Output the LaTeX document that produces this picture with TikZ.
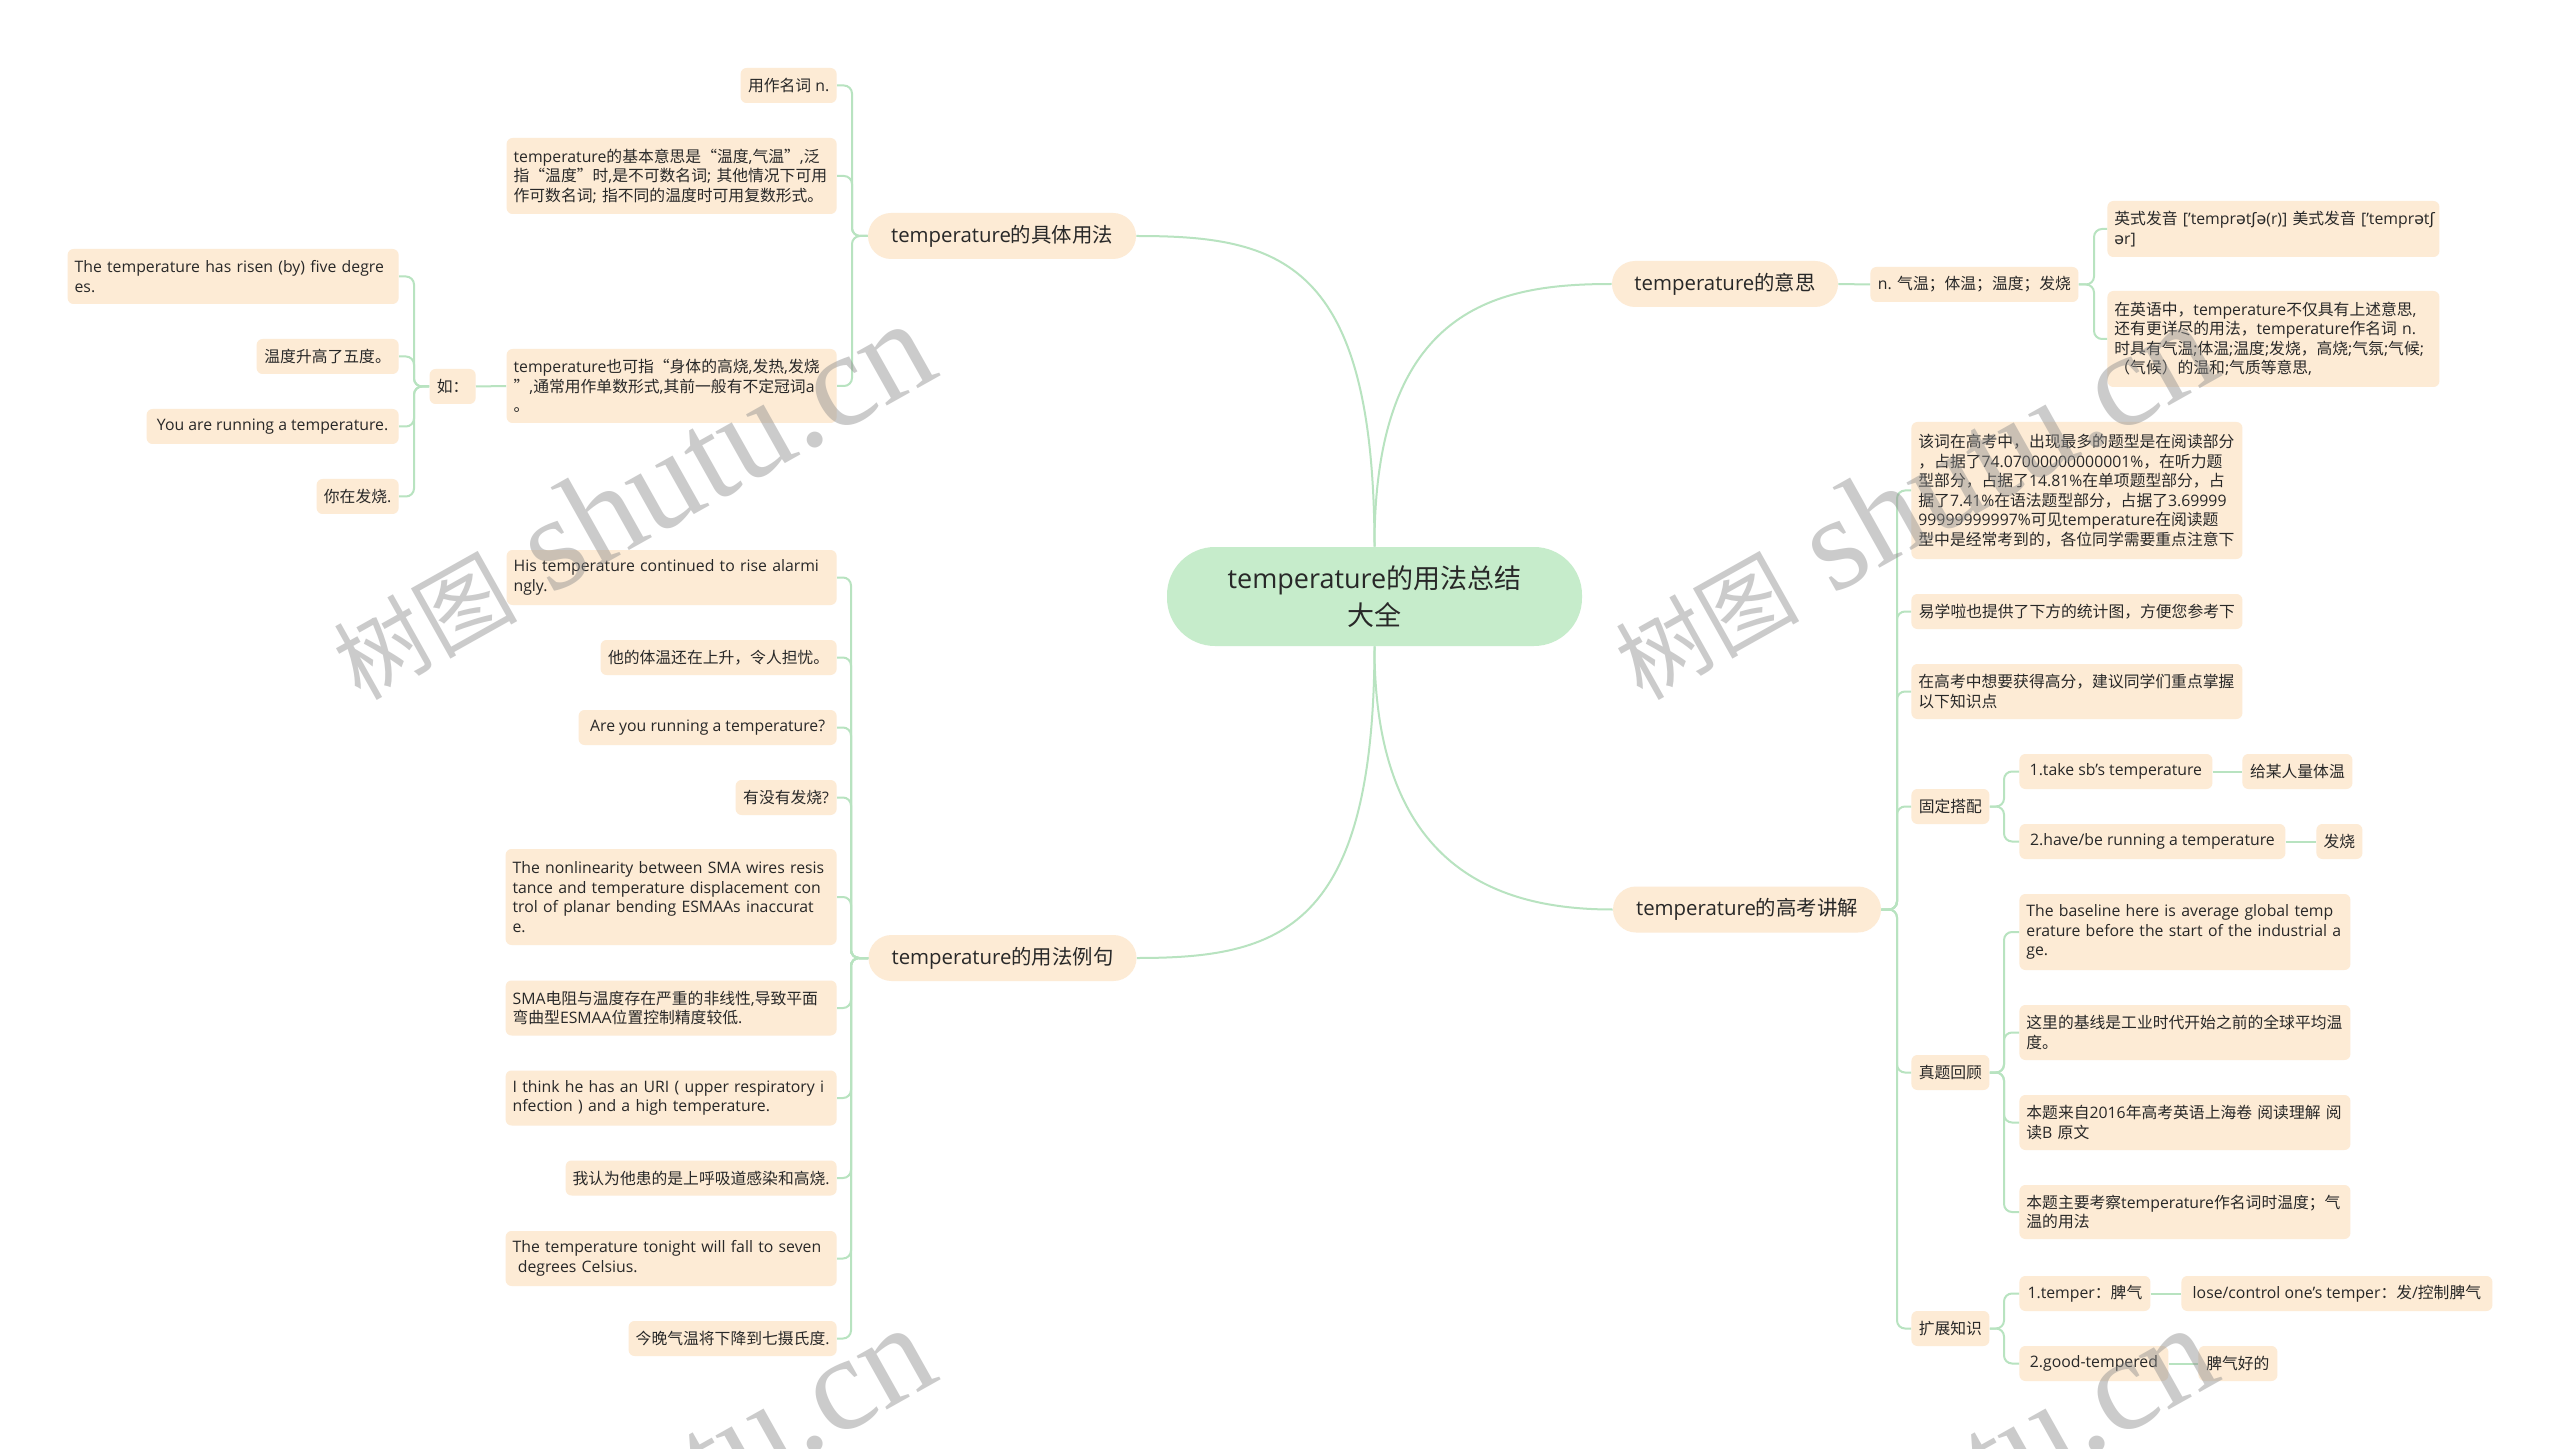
\documentclass[tikz,border=0pt]{standalone}
\usepackage{fontspec}
\setmainfont{Open Sans}
\newfontfamily\cjkfont{Noto Sans CJK SC}
\newfontfamily\ipafont{DejaVu Sans}
\newfontfamily\wmfont{Liberation Serif}
\newcommand\ipach[1]{{\ipafont #1}}
\chardef\cjkclass=10
\makeatletter
\def\setclassrange#1#2#3{\count@=#1\relax
  \loop\XeTeXcharclass\count@=#3\relax
  \ifnum\count@<#2\relax\advance\count@ by 1\relax\repeat}
\makeatother
\setclassrange{"0020}{"02FF}{0}
\setclassrange{"2000}{"206F}{0}
\setclassrange{"4E00}{"9FFF}{\cjkclass}
\setclassrange{"3000}{"303F}{\cjkclass}
\setclassrange{"FF00}{"FFEF}{\cjkclass}
\setclassrange{"201C}{"201D}{\cjkclass}
\XeTeXinterchartoks 0 \cjkclass = {\begingroup\cjkfont}
\XeTeXinterchartoks 4095 \cjkclass = {\begingroup\cjkfont}
\XeTeXinterchartoks \cjkclass 0 = {\endgroup}
\XeTeXinterchartoks \cjkclass 4095 = {\endgroup}
\XeTeXinterchartokenstate=1

\definecolor{peach}{RGB}{253,235,213}
\definecolor{rootg}{RGB}{198,236,203}
\definecolor{lineg}{RGB}{184,227,192}
\definecolor{txt}{RGB}{40,40,40}
\newcommand\fsmall{\fontsize{7.9pt}{9.75pt}\selectfont}
\newcommand\fbranch{\fontsize{10.2pt}{12pt}\selectfont}
\newcommand\froot{\fontsize{13.5pt}{18.5pt}\selectfont}
\tikzset{
  leaf/.style={fill=peach, rounded corners=3pt, text=txt, font=\fsmall,
    inner xsep=3.5pt, inner ysep=2pt, minimum height=17.5pt},
  multi/.style={align=left, text width=#1},
  branch/.style={fill=peach, rounded corners=11.5pt, text=txt, font=\fbranch,
    minimum height=23pt, minimum width=134pt, inner xsep=6pt},
  rootnode/.style={fill=rootg, rounded corners=24pt, text=txt, font=\froot,
    align=center, minimum width=207.5pt, minimum height=49.5pt},
  conn/.style={draw=lineg, line width=1pt, rounded corners=4pt},
  wm/.style={anchor=base west, rotate=29.3, inner sep=0pt, text=black!45,
    text opacity=0.45, font=\wmfont\fontsize{67pt}{67pt}\selectfont}
}
\begin{document}
\begin{tikzpicture}[x=0.5pt,y=-0.5pt]
\fill[white] (0,0) rectangle (2560,1449);
\useasboundingbox (0,0) rectangle (2560,1449);

% root and main branches
\node[rootnode] (root) at (1374.5,596.5) {temperature的用法总结\\大全};
\node[branch] (b1) at (1002,236) {temperature的具体用法};
\node[branch] (b2) at (1002.5,958) {temperature的用法例句};
\node[branch, minimum width=113pt] (b3) at (1725,284) {temperature的意思};
\node[branch] (b4) at (1747,909.5) {temperature的高考讲解};

% branch 1 children
\node[leaf, anchor=east, minimum width=48pt] (a1) at (837,85.5) {用作名词 n.};
\node[leaf, anchor=east, multi=158pt, minimum height=38pt] (a2) at (837,176)
  {\mbox{temperature的基本意思是“温度,气温”,泛}\\\mbox{指“温度”时,是不可数名词; 其他情况下可用}\\\mbox{作可数名词; 指不同的温度时可用复数形式。}};
\node[leaf, anchor=east, multi=158pt, minimum height=37pt] (a3) at (837,386)
  {\mbox{temperature也可指“身体的高烧,发热,发烧}\\\mbox{”,通常用作单数形式,其前一般有不定冠词a}\\\mbox{。}};
\node[leaf, anchor=east, minimum width=23pt] (ru) at (476,386.5) {如：};
\node[leaf, anchor=east, multi=158.5pt, minimum height=27.5pt] (r1) at (399,276.5)
  {\mbox{The temperature has risen (by) five degre}\\\mbox{es.}};
\node[leaf, anchor=east, minimum width=71pt] (r2) at (399,356.5) {温度升高了五度。};
\node[leaf, anchor=east, minimum width=126pt] (r3) at (399,426.5) {You are running a temperature.};
\node[leaf, anchor=east, minimum width=41pt] (r4) at (399,496.5) {你在发烧.};

% branch 2 children
\node[leaf, anchor=east, multi=158pt, minimum height=27.5pt] (e1) at (837,577.5)
  {\mbox{His temperature continued to rise alarmi}\\\mbox{ngly.}};
\node[leaf, anchor=east, minimum width=118pt] (e2) at (837,657.5) {他的体温还在上升，令人担忧。};
\node[leaf, anchor=east, minimum width=129pt] (e3) at (837,727.5) {Are you running a temperature?};
\node[leaf, anchor=east, minimum width=50.5pt] (e4) at (837,797.5) {有没有发烧?};
\node[leaf, anchor=east, multi=158.5pt, minimum height=48pt] (e5) at (837,897)
  {\mbox{The nonlinearity between SMA wires resis}\\\mbox{tance and temperature displacement con}\\\mbox{trol of planar bending ESMAAs inaccurat}\\\mbox{e.}};
\node[leaf, anchor=east, multi=158.5pt, minimum height=27.5pt] (e6) at (837,1008)
  {\mbox{SMA电阻与温度存在严重的非线性,导致平面}\\\mbox{弯曲型ESMAA位置控制精度较低.}};
\node[leaf, anchor=east, multi=158.5pt, minimum height=27.5pt] (e7) at (837,1098)
  {\mbox{I think he has an URI ( upper respiratory i}\\\mbox{nfection ) and a high temperature.}};
\node[leaf, anchor=east, minimum width=135.5pt] (e8) at (837,1178) {我认为他患的是上呼吸道感染和高烧.};
\node[leaf, anchor=east, multi=158.5pt, minimum height=27.5pt] (e9) at (837,1258.5)
  {\mbox{The temperature tonight will fall to seven}\\\mbox{ degrees Celsius.}};
\node[leaf, anchor=east, minimum width=104pt] (e10) at (837,1338.5) {今晚气温将下降到七摄氏度.};

% branch 3 children
\node[leaf, anchor=west, minimum width=104pt] (m0) at (1870,284.5) {n. 气温；体温；温度；发烧};
\node[leaf, anchor=west, multi=159pt, minimum height=28pt] (m1) at (2107,229)
  {\mbox{英式发音 ['tempr\ipach{ə}t\ipach{ʃə}(r)] 美式发音 ['tempr\ipach{ə}t\ipach{ʃ}}\\\mbox{\ipach{ə}r]}};
\node[leaf, anchor=west, multi=159pt, minimum height=48pt] (m2) at (2107,339)
  {\mbox{在英语中，temperature不仅具有上述意思,}\\\mbox{还有更详尽的用法，temperature作名词 n.}\\\mbox{时具有气温;体温;温度;发烧，高烧;气氛;气候;}\\\mbox{（气候）的温和;气质等意思,}};

% branch 4 children
\node[leaf, anchor=west, multi=158.5pt, minimum height=68.5pt] (k1) at (1911,490.5)
  {\mbox{该词在高考中，出现最多的题型是在阅读部分}\\\mbox{，占据了74.07000000000001\%，在听力题}\\\mbox{型部分，占据了14.81\%在单项题型部分，占}\\\mbox{据了7.41\%在语法题型部分，占据了3.69999}\\\mbox{99999999997\%可见temperature在阅读题}\\\mbox{型中是经常考到的，各位同学需要重点注意下}};
\node[leaf, anchor=west, minimum width=165.5pt] (k2) at (1911,611.5) {易学啦也提供了下方的统计图，方便您参考下};
\node[leaf, anchor=west, multi=158.5pt, minimum height=27.5pt] (k3) at (1911,691.5)
  {\mbox{在高考中想要获得高分，建议同学们重点掌握}\\\mbox{以下知识点}};
\node[leaf, anchor=west, minimum width=39pt] (k4) at (1911,806.5) {固定搭配};
\node[leaf, anchor=west, minimum width=39pt] (k5) at (1911,1072.5) {真题回顾};
\node[leaf, anchor=west, minimum width=39pt] (k6) at (1911,1328.5) {扩展知识};

\node[leaf, anchor=west, minimum width=96.5pt] (g1) at (2019,771.5) {1.take sb's temperature};
\node[leaf, anchor=west, minimum width=55pt] (g1b) at (2242,771.5) {给某人量体温};
\node[leaf, anchor=west, minimum width=133pt] (g2) at (2019,841.5) {2.have/be running a temperature};
\node[leaf, anchor=west, minimum width=23pt] (g2b) at (2316,841.5) {发烧};

\node[leaf, anchor=west, multi=158.5pt, minimum height=38pt] (z1) at (2019,932)
  {\mbox{The baseline here is average global temp}\\\mbox{erature before the start of the industrial a}\\\mbox{ge.}};
\node[leaf, anchor=west, multi=158.5pt, minimum height=27.5pt] (z2) at (2019,1032.5)
  {\mbox{这里的基线是工业时代开始之前的全球平均温}\\\mbox{度。}};
\node[leaf, anchor=west, multi=158.5pt, minimum height=27.5pt] (z3) at (2019,1122.5)
  {\mbox{本题来自2016年高考英语上海卷 阅读理解 阅}\\\mbox{读B 原文}};
\node[leaf, anchor=west, multi=158.5pt, minimum height=27pt] (z4) at (2019,1212)
  {\mbox{本题主要考察temperature作名词时温度；气}\\\mbox{温的用法}};

\node[leaf, anchor=west, minimum width=65.5pt] (x1) at (2019,1293.5) {1.temper：脾气};
\node[leaf, anchor=west, minimum width=155.5pt] (x1b) at (2181,1293.5) {lose/control one's temper：发/控制脾气};
\node[leaf, anchor=west, minimum width=74.5pt] (x2) at (2019,1363.5) {2.good-tempered};
\node[leaf, anchor=west, minimum width=39.5pt] (x2b) at (2198,1363.5) {脾气好的};

% connectors from root
\draw[conn] (root.north) .. controls (1374,260) and (1280,236) .. (b1.east);
\draw[conn] (root.north) .. controls (1374,305) and (1500,284) .. (b3.west);
\draw[conn] (root.south) .. controls (1374,930) and (1280,958) .. (b2.east);
\draw[conn] (root.south) .. controls (1374,870) and (1500,909.5) .. (b4.west);

% trunks
\coordinate (t1) at (852,236);
\foreach \c in {a1,a2,a3} \draw[conn] (b1.west) -- (t1) |- (\c.east);
\draw[conn] (a3.west) -- (ru.east);
\coordinate (t2) at (414,386.5);
\foreach \c in {r1,r2,r3,r4} \draw[conn] (ru.west) -- (t2) |- (\c.east);
\coordinate (t3) at (851,958);
\foreach \c in {e1,e2,e3,e4,e5,e6,e7,e8,e9,e10} \draw[conn] (b2.west) -- (t3) |- (\c.east);
\draw[conn] (b3.east) -- (m0.west);
\coordinate (t4) at (2094,284.5);
\foreach \c in {m1,m2} \draw[conn] (m0.east) -- (t4) |- (\c.west);
\coordinate (t5) at (1897,909.5);
\foreach \c in {k1,k2,k3,k4,k5,k6} \draw[conn] (b4.east) -- (t5) |- (\c.west);
\coordinate (t6) at (2004,806.5);
\foreach \c in {g1,g2} \draw[conn] (k4.east) -- (t6) |- (\c.west);
\coordinate (t7) at (2004,1072.5);
\foreach \c in {z1,z2,z3,z4} \draw[conn] (k5.east) -- (t7) |- (\c.west);
\coordinate (t8) at (2004,1328.5);
\foreach \c in {x1,x2} \draw[conn] (k6.east) -- (t8) |- (\c.west);
\draw[conn] (g1.east) -- (g1b.west);
\draw[conn] (g2.east) -- (g2b.west);
\draw[conn] (x1.east) -- (x1b.west);
\draw[conn] (x2.east) -- (x2b.west);

% watermarks
\begin{scope}
\clip (0,0) rectangle (2560,1449);
\node[wm] (wm1) at (360,702) {{\fontsize{46pt}{46pt}\selectfont 树图} shutu.cn};
\node[wm] (wm2) at (1642,702) {{\fontsize{46pt}{46pt}\selectfont 树图} shutu.cn};
\node[wm] (wm3) at (360,1706) {{\fontsize{46pt}{46pt}\selectfont 树图} shutu.cn};
\node[wm] (wm4) at (1642,1706) {{\fontsize{46pt}{46pt}\selectfont 树图} shutu.cn};
\end{scope}
\end{tikzpicture}
\end{document}
